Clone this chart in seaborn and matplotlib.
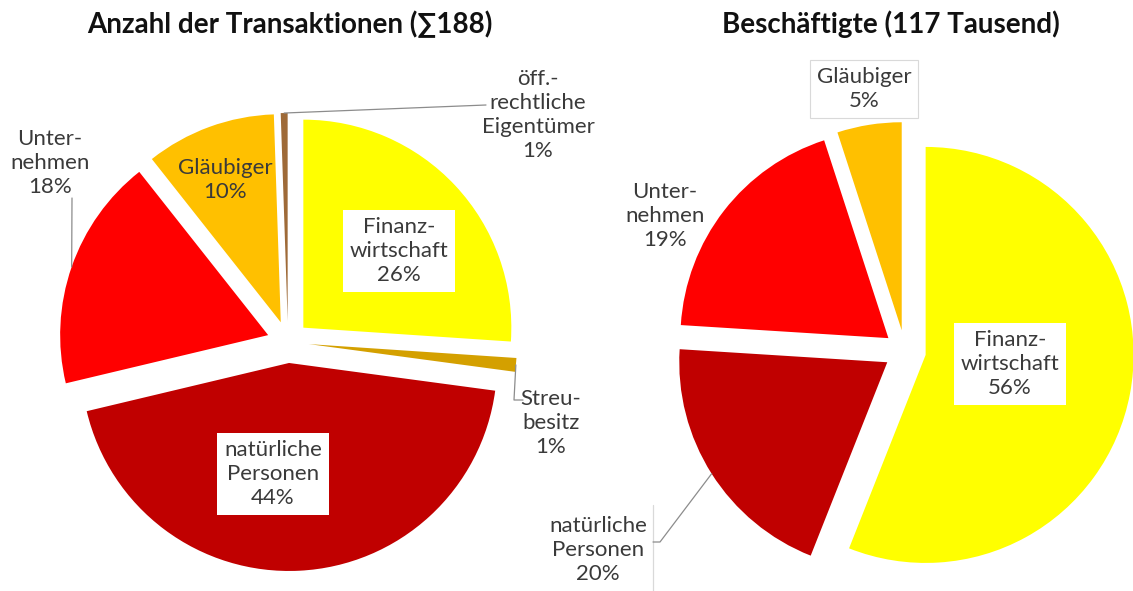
import numpy as np
import matplotlib
matplotlib.use("Agg")
import matplotlib.pyplot as plt
import seaborn as sns

# Daten: Anzahl der Transaktionen (Summe 188)
trans_labels = ["Finanz-\nwirtschaft", "Streu-\nbesitz", "natürliche\nPersonen",
                "Unter-\nnehmen", "Gläubiger", "öff.-\nrechtliche\nEigentümer"]
trans_counts = [49, 2, 83, 34, 19, 1]
trans_colors = ["#FFFF00", "#D4A000", "#C00000", "#FF0000", "#FFC000", "#9E6A38"]

# Daten: Beschäftigte (117 Tausend), Anteile in %
besch_labels = ["Finanz-\nwirtschaft", "natürliche\nPersonen", "Unter-\nnehmen", "Gläubiger"]
besch_share = [56, 20, 19, 5]
besch_colors = ["#FFFF00", "#C00000", "#FF0000", "#FFC000"]

titles = ["Anzahl der Transaktionen (∑188)", "Beschäftigte (117 Tausend)"]

sns.set_theme(style="white")
plt.rcParams["font.family"] = ["Lato", "DejaVu Sans"]

W, H = 1133, 591
fig = plt.figure(figsize=(W / 100, H / 100), dpi=100)
ax = fig.add_axes([0, 0, 1, 1])

TXT = "#3A3A3A"
LINE = "#8C8C8C"

# Layout der Beschriftungen (Pixel, Textmitte)
left_pos = [(399, 251), (551, 423), (273, 474), (50, 163), (225, 180), (538, 115)]
left_box = ["white", None, "white", None, None, None]
left_lead = [None, [(514, 400), (523, 400)], None, [(72, 198)], None, [(486, 105)]]

right_pos = [(1010, 364), (598, 550), (665, 216), (864, 89)]
right_box = ["white", None, None, "white"]
right_edge = [None, None, None, "#D9D9D9"]
right_lead = [None, [(660, 542), (653, 542)], None, None]


def draw_pie(values, labels, colors, center, pos, boxes, edges, leads):
    total = float(sum(values))
    wedges, _ = ax.pie(values, colors=colors, startangle=-90, counterclock=True,
                       center=center, radius=208, explode=[21] * len(values),
                       wedgeprops=dict(linewidth=0))
    for w, lab, v, p, fc, ec, lead in zip(wedges, labels, values, pos, boxes, edges, leads):
        txt = f"{lab}\n{round(v / total * 100)}%"
        bbox = None
        if fc is not None:
            bbox = dict(boxstyle="square,pad=0.3", fc=fc,
                        ec=ec if ec else "none", lw=0.8)
        ax.text(p[0], p[1], txt, ha="center", va="center", multialignment="center",
                fontsize=16, color=TXT, linespacing=1.26, bbox=bbox, zorder=5)
        if lead is not None:
            tm = np.deg2rad((w.theta1 + w.theta2) / 2)
            ax0 = w.center[0] + w.r * np.cos(tm)
            ay0 = w.center[1] + w.r * np.sin(tm)
            xs = [ax0] + [q[0] for q in lead]
            ys = [ay0] + [q[1] for q in lead]
            ax.plot(xs, ys, color=LINE, lw=0.9, zorder=4)
    return wedges


draw_pie(trans_counts, trans_labels, trans_colors, (288, 342),
         left_pos, left_box, [None] * 6, left_lead)
draw_pie(besch_share, besch_labels, besch_colors, (905, 351),
         right_pos, right_box, right_edge, right_lead)

# senkrechte Führungslinie am Label "natürliche Personen" (rechts)
ax.plot([653, 653], [505, 591], color="#D9D9D9", lw=0.9)

ax.text(290, 24, titles[0], ha="center", va="center", fontsize=20,
        fontweight="bold", color="#111111")
ax.text(891, 24, titles[1], ha="center", va="center", fontsize=20,
        fontweight="bold", color="#111111")

ax.set_xlim(0, W)
ax.set_ylim(H, 0)
ax.set_aspect("equal")
ax.axis("off")

plt.savefig("out.png", dpi=100, facecolor="white")
